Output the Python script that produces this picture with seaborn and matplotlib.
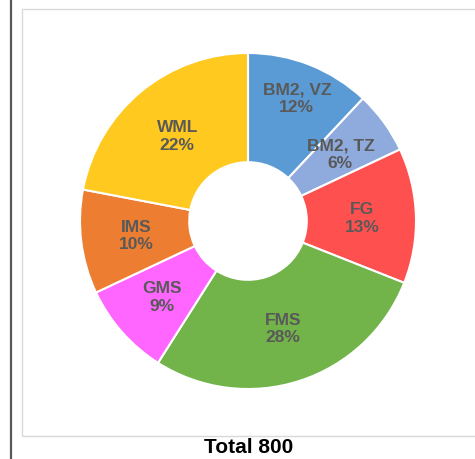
import numpy as np
import matplotlib
matplotlib.use('Agg')
import matplotlib.pyplot as plt
import seaborn as sns
from matplotlib.lines import Line2D
from matplotlib.patches import Rectangle

# ---- 数据 ----
categories = ['BM2, VZ', 'BM2, TZ', 'FG', 'FMS', 'GMS', 'IMS', 'WML']
counts = [96, 48, 104, 224, 72, 80, 176]
colors = ['#5B9BD5', '#8FAADC', '#FF5050', '#72B34A', '#FF66FF', '#ED7D31', '#FFC91F']
total_label = f'Total {sum(counts)}'

# 每个标签的径向位置（Excel 自动摆放的近似）
label_r = [0.79, 0.68, 0.68, 0.67, 0.68, 0.67, 0.66]

sns.set_theme(style='white')
plt.rcParams['font.family'] = ['Liberation Sans', 'DejaVu Sans']

fig = plt.figure(figsize=(4.75, 4.6), dpi=100)
W, H = 475, 460

# 外框
fig.add_artist(Rectangle((22 / W, 1 - 437 / H), 460 / W, 427 / H,
                         transform=fig.transFigure, fill=False,
                         edgecolor='#d9d9d9', linewidth=1))
fig.add_artist(Line2D([10.5 / W, 10.5 / W], [0, 1], transform=fig.transFigure,
                      color='#595959', linewidth=1.6))

# 饼图区域：中心 (248, 222)，半径 168 px
cx, cy, r = 248, 222, 168
ax = fig.add_axes([(cx - r) / W, (H - cy - r) / H, 2 * r / W, 2 * r / H])

wedges, _ = ax.pie(counts, colors=sns.color_palette(colors), startangle=90,
                   counterclock=False,
                   wedgeprops=dict(width=0.65, edgecolor='white', linewidth=1.5))
ax.set_xlim(-1, 1)
ax.set_ylim(-1, 1)
ax.set_aspect('equal')
ax.axis('off')

total = sum(counts)
for w, name, c, lr in zip(wedges, categories, counts, label_r):
    ang = np.deg2rad((w.theta1 + w.theta2) / 2)
    pct = round(c / total * 100)
    ax.text(lr * np.cos(ang), lr * np.sin(ang), f'{name}\n{pct}%',
            ha='center', va='center', fontsize=12.5, fontweight='bold',
            color='#595959', linespacing=1.2)

fig.text(249 / W, 1 - 448 / H, total_label, ha='center', va='center',
         fontsize=15, fontweight='bold', color='black')

plt.savefig('out.png', dpi=100)
plt.close()
